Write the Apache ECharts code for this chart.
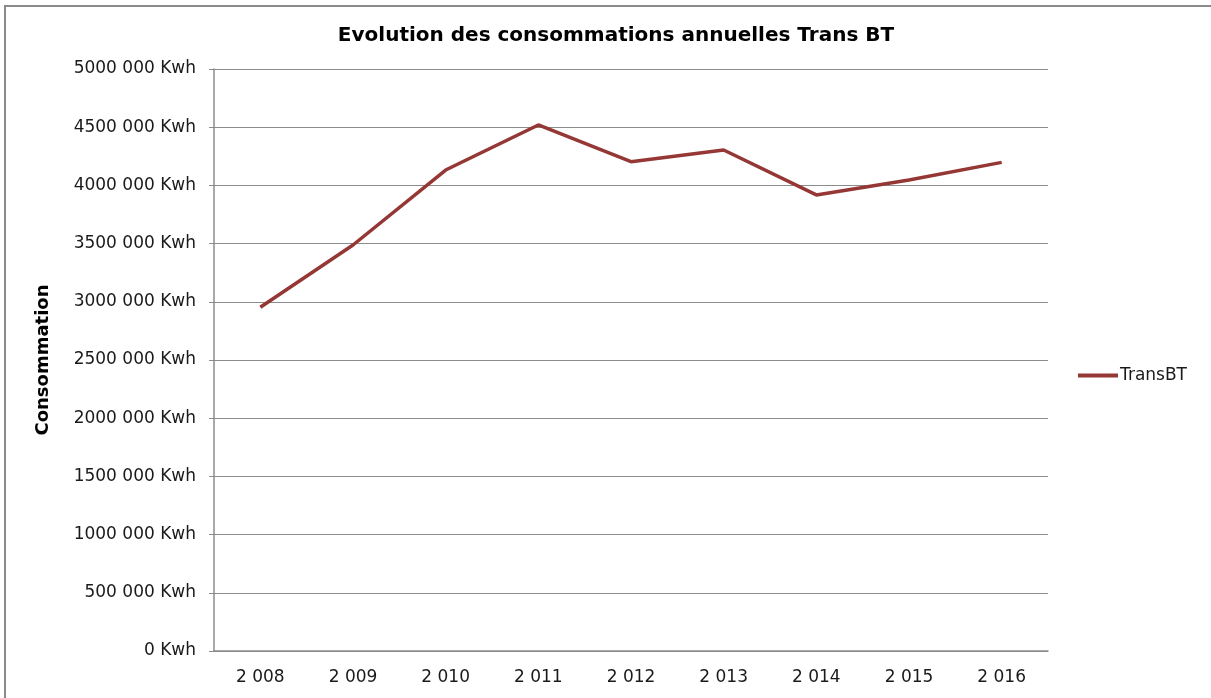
<!DOCTYPE html>
<html>
<head>
<meta charset="utf-8">
<script src="https://cdn.jsdelivr.net/npm/echarts@6/dist/echarts.min.js"></script>
<style>
  body { margin: 0; background: #fff; }
  #frame { position: absolute; left: 4px; top: 5px; width: 1207px; height: 693px;
           border-left: 2px solid #8a8a8a; border-top: 2px solid #8a8a8a; box-sizing: border-box; }
  #chart { position: absolute; left: 0; top: 0; width: 1211px; height: 698px; }
</style>
</head>
<body>
<div id="frame"></div>
<div id="chart"></div>
<script>
const years = ["2 008", "2 009", "2 010", "2 011", "2 012", "2 013", "2 014", "2 015", "2 016"];
const transBT = [2953000, 3488000, 4132000, 4519000, 4204000, 4304000, 3918000, 4046000, 4198000];

const chart = echarts.init(document.getElementById("chart"));
const font = "DejaVu Sans";

const kwh = (v) => (v === 0 ? "0 Kwh" : v / 1000 + " 000 Kwh");

chart.setOption({
  animation: false,
  title: {
    text: "Evolution des consommations annuelles Trans BT",
    left: 611,
    top: 21,
    textAlign: "center",
    textStyle: { fontFamily: font, fontSize: 20, fontWeight: "bold", color: "#000" },
  },
  legend: {
    orient: "vertical",
    left: 1073,
    top: 362,
    icon: "rect",
    itemWidth: 40,
    itemHeight: 4,
    itemGap: 5,
    textStyle: { fontFamily: font, fontSize: 17, color: "#1a1a1a", padding: [0, 0, 0, -3] },
    data: ["TransBT"],
  },
  grid: { left: 214, right: 163, top: 69, bottom: 47 },
  xAxis: {
    type: "category",
    data: years,
    boundaryGap: true,
    axisLine: { lineStyle: { color: "#8c8c8c", width: 1.5 } },
    axisTick: { show: false },
    axisLabel: { fontFamily: font, fontSize: 17, color: "#1a1a1a", margin: 18 },
  },
  yAxis: {
    type: "value",
    min: 0,
    max: 5000000,
    interval: 500000,
    name: "Consommation",
    nameLocation: "middle",
    nameRotate: 90,
    nameGap: 162,
    nameTextStyle: { fontFamily: font, fontSize: 18, fontWeight: "bold", color: "#000" },
    axisLine: { show: true, lineStyle: { color: "#8c8c8c", width: 1.5 } },
    axisTick: { show: true, length: 5, lineStyle: { color: "#8c8c8c" } },
    splitLine: { lineStyle: { color: "#8c8c8c", width: 1.2 } },
    axisLabel: { fontFamily: font, fontSize: 17, color: "#1a1a1a", margin: 18, formatter: kwh },
  },
  series: [
    {
      name: "TransBT",
      type: "line",
      data: transBT,
      showSymbol: false,
      symbol: "none",
      color: "#953735",
      lineStyle: { width: 3.5, color: "#953735" },
    },
  ],
});
</script>
</body>
</html>
